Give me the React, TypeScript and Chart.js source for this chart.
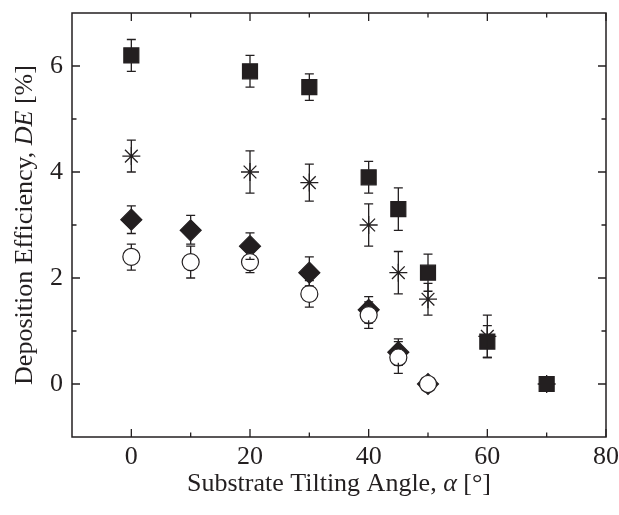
import React, { useEffect, useRef } from 'react';
import { Chart, registerables } from 'chart.js';

Chart.register(...registerables);

// ---- data ----
const squareX = [0, 20, 30, 40, 45, 50, 60, 70];
const squareY = [6.2, 5.9, 5.6, 3.9, 3.3, 2.1, 0.8, 0];
const squareLow = [5.9, 5.6, 5.35, 3.6, 2.9, 1.75, 0.5, 0];
const squareHigh = [6.5, 6.2, 5.85, 4.2, 3.7, 2.45, 1.1, 0];

const starX = [0, 20, 30, 40, 45, 50, 60, 70];
const starY = [4.3, 4.0, 3.8, 3.0, 2.1, 1.6, 0.9, 0];
const starLow = [4.0, 3.6, 3.45, 2.6, 1.7, 1.3, 0.5, 0];
const starHigh = [4.6, 4.4, 4.15, 3.4, 2.5, 1.9, 1.3, 0];

const circleX = [0, 10, 20, 30, 40, 45, 50];
const circleY = [2.4, 2.3, 2.3, 1.7, 1.3, 0.5, 0];
const circleLow = [2.15, 2.0, 2.1, 1.45, 1.05, 0.2, 0];
const circleHigh = [2.64, 2.6, 2.5, 1.95, 1.55, 0.8, 0];

const diamondX = [0, 10, 20, 30, 40, 45, 50];
const diamondY = [3.1, 2.9, 2.6, 2.1, 1.4, 0.6, 0];
const diamondLow = [2.84, 2.64, 2.35, 1.85, 1.15, 0.35, 0];
const diamondHigh = [3.36, 3.18, 2.85, 2.4, 1.65, 0.85, 0];

const xTicks = [0, 20, 40, 60, 80];
const xMinorTicks = [10, 30, 50, 70];
const yTicks = [0, 2, 4, 6];
const yMinorTicks = [1, 3, 5];

const xTitle = [
  { text: 'Substrate Tilting Angle, ', italic: false },
  { text: 'α', italic: true },
  { text: ' [°]', italic: false },
];
const yTitle = [
  { text: 'Deposition Efficiency, ', italic: false },
  { text: 'DE', italic: true },
  { text: ' [%]', italic: false },
];

const INK = '#231f20';
const FONT = '"Liberation Serif", "Times New Roman", serif';
const FONT_SIZE = 26;

const series = [
  { label: 'square', xs: squareX, ys: squareY, lo: squareLow, hi: squareHigh, style: 'rect', radius: 10.6, fill: INK, half: 7.5 },
  { label: 'star', xs: starX, ys: starY, lo: starLow, hi: starHigh, style: 'star', radius: 9, fill: INK, half: 0 },
  { label: 'circle', xs: circleX, ys: circleY, lo: circleLow, hi: circleHigh, style: 'circle', radius: 8.5, fill: '#ffffff', half: 8.5 },
  { label: 'diamond', xs: diamondX, ys: diamondY, lo: diamondLow, hi: diamondHigh, style: 'rectRot', radius: 10.5, fill: INK, half: 10.5 },
];

function drawSegments(ctx: CanvasRenderingContext2D, segs: { text: string; italic: boolean }[], cx: number, cy: number) {
  const fonts = segs.map(s => `${s.italic ? 'italic ' : ''}${FONT_SIZE}px ${FONT}`);
  let total = 0;
  const widths = segs.map((s, i) => {
    ctx.font = fonts[i];
    const w = ctx.measureText(s.text).width;
    total += w;
    return w;
  });
  let x = cx - total / 2;
  ctx.textBaseline = 'middle';
  ctx.textAlign = 'left';
  ctx.fillStyle = INK;
  segs.forEach((s, i) => {
    ctx.font = fonts[i];
    ctx.fillText(s.text, x, cy);
    x += widths[i];
  });
}

const errorBarPlugin = {
  id: 'errorBars',
  afterDatasetsDraw(chart: any) {
    const ctx = chart.ctx as CanvasRenderingContext2D;
    const xs = chart.scales.x;
    const ys = chart.scales.y;
    ctx.save();
    ctx.strokeStyle = INK;
    ctx.lineWidth = 1.3;
    const cap = 4.5;
    series.forEach(s => {
      s.xs.forEach((xv, j) => {
        const px = xs.getPixelForValue(xv);
        const pc = ys.getPixelForValue(s.ys[j]);
        const ph = ys.getPixelForValue(s.hi[j]);
        const pl = ys.getPixelForValue(s.lo[j]);
        if (ph < pc - s.half - 0.5) {
          ctx.beginPath();
          ctx.moveTo(px, pc - s.half);
          ctx.lineTo(px, ph);
          ctx.moveTo(px - cap, ph);
          ctx.lineTo(px + cap, ph);
          ctx.stroke();
        }
        if (pl > pc + s.half + 0.5) {
          ctx.beginPath();
          ctx.moveTo(px, pc + s.half);
          ctx.lineTo(px, pl);
          ctx.moveTo(px - cap, pl);
          ctx.lineTo(px + cap, pl);
          ctx.stroke();
        }
      });
    });
    ctx.restore();
  },
};

const framePlugin = {
  id: 'frame',
  afterDraw(chart: any) {
    const ctx = chart.ctx as CanvasRenderingContext2D;
    const { left, right, top, bottom } = chart.chartArea;
    const xs = chart.scales.x;
    const ys = chart.scales.y;
    ctx.save();
    ctx.strokeStyle = INK;
    ctx.lineWidth = 1.5;
    ctx.strokeRect(left, top, right - left, bottom - top);
    ctx.lineWidth = 1.3;
    const major = 8;
    const minor = 4.5;
    ctx.beginPath();
    const xt = (v: number, len: number) => {
      const p = xs.getPixelForValue(v);
      ctx.moveTo(p, bottom);
      ctx.lineTo(p, bottom - len);
      ctx.moveTo(p, top);
      ctx.lineTo(p, top + len);
    };
    const yt = (v: number, len: number) => {
      const p = ys.getPixelForValue(v);
      ctx.moveTo(left, p);
      ctx.lineTo(left + len, p);
      ctx.moveTo(right, p);
      ctx.lineTo(right - len, p);
    };
    xTicks.forEach(v => xt(v, major));
    xMinorTicks.forEach(v => xt(v, minor));
    yTicks.forEach(v => yt(v, major));
    yMinorTicks.forEach(v => yt(v, minor));
    ctx.stroke();

    // axis titles
    drawSegments(ctx, xTitle, (left + right) / 2, 484);
    ctx.save();
    ctx.translate(25, (top + bottom) / 2);
    ctx.rotate(-Math.PI / 2);
    drawSegments(ctx, yTitle, 0, 0);
    ctx.restore();
    ctx.restore();
  },
};

export default function App() {
  const ref = useRef<HTMLCanvasElement | null>(null);
  useEffect(() => {
    if (!ref.current) return;
    const chart = new Chart(ref.current, {
      type: 'scatter',
      data: {
        datasets: series.map(s => ({
          label: s.label,
          data: s.xs.map((x, i) => ({ x, y: s.ys[i] })),
          pointStyle: s.style as any,
          pointRadius: s.radius,
          pointHoverRadius: s.radius,
          backgroundColor: s.fill,
          borderColor: INK,
          borderWidth: s.style === 'star' ? 1.3 : 1.2,
          showLine: false,
        })),
      },
      options: {
        animation: false,
        responsive: true,
        maintainAspectRatio: false,
        layout: { padding: { top: 13, right: 13, left: 0, bottom: 0 } },
        plugins: { legend: { display: false }, tooltip: { enabled: false }, title: { display: false } },
        scales: {
          x: {
            type: 'linear',
            min: -10,
            max: 80,
            grid: { display: false, drawTicks: false },
            border: { display: false },
            afterBuildTicks: (scale: any) => { scale.ticks = xTicks.map(v => ({ value: v })); },
            afterFit: (scale: any) => {
              scale.height = 78;
              scale.paddingLeft = 0; scale.paddingRight = 0; scale.paddingTop = 0; scale.paddingBottom = 0;
            },
            ticks: { color: INK, font: { family: FONT, size: FONT_SIZE }, padding: 5, maxRotation: 0, autoSkip: false },
          },
          y: {
            type: 'linear',
            min: -1,
            max: 7,
            grid: { display: false, drawTicks: false },
            border: { display: false },
            afterBuildTicks: (scale: any) => { scale.ticks = yTicks.map(v => ({ value: v })); },
            afterFit: (scale: any) => {
              scale.width = 72;
              scale.paddingLeft = 0; scale.paddingRight = 0; scale.paddingTop = 0; scale.paddingBottom = 0;
            },
            ticks: { color: INK, font: { family: FONT, size: FONT_SIZE }, padding: 9, autoSkip: false },
          },
        },
      },
      plugins: [errorBarPlugin, framePlugin],
    });
    return () => chart.destroy();
  }, []);
  return (
    <div style={{ position: 'absolute', left: 0, top: 0, width: 619, height: 515, background: '#fff' }}>
      <canvas ref={ref} />
    </div>
  );
}
